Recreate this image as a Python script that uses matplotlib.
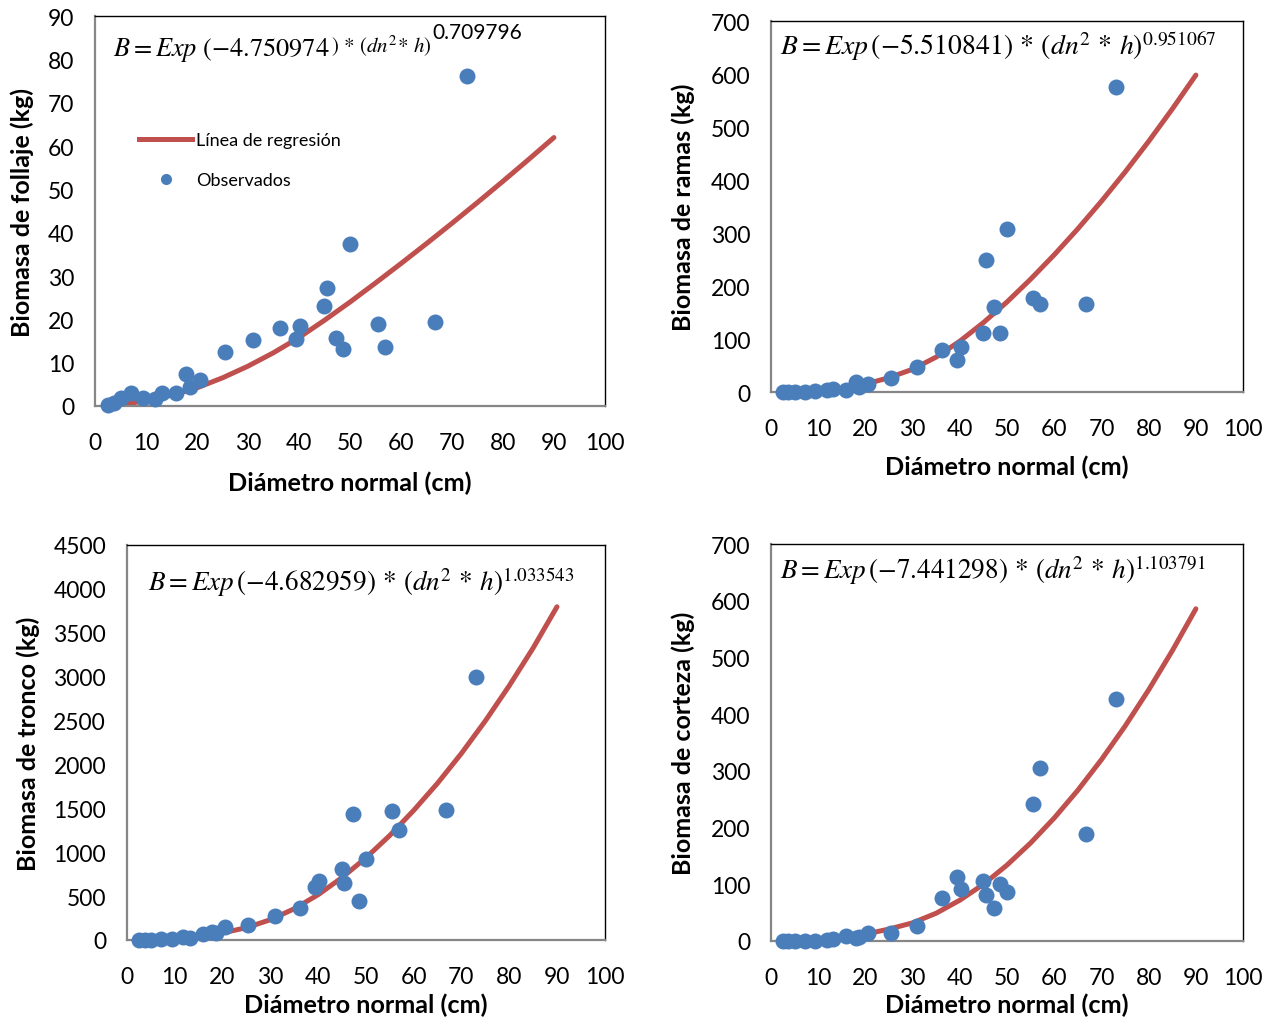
import matplotlib
matplotlib.use('Agg')
import matplotlib.pyplot as plt
from matplotlib.lines import Line2D

plt.rcParams['font.family'] = ['Lato', 'DejaVu Sans']
plt.rcParams['mathtext.fontset'] = 'stix'

BLUE = '#4A7EBB'
RED = '#C0504D'

# diametro normal (cm) de los arboles observados
dn = [2.5, 3.7, 5.0, 7.1, 9.4, 11.8, 13.2, 15.9, 17.9, 18.6, 20.6, 25.4, 31.0,
      36.2, 39.4, 40.2, 45.0, 45.5, 47.3, 48.6, 50.0, 55.4, 56.9, 66.7, 73.0]

# biomasa observada (kg)
follaje = [0.3, 0.8, 1.9, 2.9, 1.9, 1.5, 3.1, 2.9, 7.4, 4.4, 5.9, 12.5, 15.2,
           18.1, 15.4, 18.5, 23.0, 27.3, 15.8, 13.1, 37.4, 18.9, 13.7, 19.3, 76.2]
ramas = [0.5, 0.5, 0.5, 0.5, 1, 3, 6, 3, 18, 9, 15, 26, 47,
         79, 60, 85, 111, 250, 160, 111, 308, 178, 167, 167, 575]
tronco = [5, 5, 5, 8, 8, 38, 23, 68, 95, 80, 152, 175, 277,
          368, 600, 676, 809, 649, 1435, 448, 923, 1466, 1256, 1484, 2990]
corteza = [0.3, 0.3, 0.3, 0.5, 0.5, 2.4, 3, 9.5, 4.7, 6.5, 14.8, 13.5, 26.4,
           75, 112, 91, 105, 81, 59, 100, 87, 242, 306, 188, 427]

# linea de regresion
curve_dn = [2.5, 5, 10, 15, 20, 25, 30, 35, 40, 45, 50, 55, 60, 65, 70, 75, 80, 85, 90]
follaje_fit = [0.1, 0.3, 1.2, 2.5, 4.2, 6.5, 9.2, 12.3, 15.8, 19.8, 24.0, 28.4,
               32.9, 37.5, 42.2, 47.0, 51.9, 56.9, 62.0]
ramas_fit = [0.1, 0.5, 2.5, 7, 15, 27, 43, 66, 96, 131, 170, 213, 259, 308,
             360, 415, 473, 534, 598]
tronco_fit = [1, 4, 15, 40, 80, 140, 230, 355, 515, 710, 935, 1190, 1475, 1785,
              2125, 2495, 2895, 3325, 3795]
corteza_fit = [0.1, 0.5, 2, 6, 12, 21, 32, 49, 72, 100, 134, 173, 217, 266,
               320, 379, 443, 512, 586]

eq2 = r'$B = Exp\,(-5.510841)\,*\,(dn^2\,*\,h)^{0.951067}$'
eq3 = r'$B = Exp\,(-4.682959)\,*\,(dn^2\,*\,h)^{1.033543}$'
eq4 = r'$B = Exp\,(-7.441298)\,*\,(dn^2\,*\,h)^{1.103791}$'

fig = plt.figure(figsize=(12.81, 10.2), dpi=100)


def draw(rect, obs, fit, ymax, ystep, ylabel, ylab_x, xlab_y):
    ax = fig.add_axes(rect)
    ax.plot(curve_dn, fit, color=RED, lw=3.6, solid_capstyle='round',
            solid_joinstyle='round', zorder=2)
    ax.plot(dn, obs, 'o', color=BLUE, ms=11.5, mec='none', zorder=3, clip_on=False)
    ax.set_xlim(0, 100)
    ax.set_ylim(0, ymax)
    ax.set_xticks(range(0, 101, 10))
    ax.set_yticks(range(0, ymax + 1, ystep))
    ax.tick_params(length=0, labelsize=16.5, colors='black')
    ax.tick_params(axis='x', pad=19)
    ax.tick_params(axis='y', pad=15)
    for s in ('left', 'bottom'):
        ax.spines[s].set_color('#868686')
        ax.spines[s].set_linewidth(1.6)
    for s in ('top', 'right'):
        ax.spines[s].set_color('black')
        ax.spines[s].set_linewidth(1.0)
    ax.set_xlabel('Diámetro normal (cm)', fontsize=18.2, fontweight='bold')
    ax.set_ylabel(ylabel, fontsize=18, fontweight='bold')
    ax.xaxis.set_label_coords(0.5, xlab_y)
    ax.xaxis.label.set_va('center')
    ax.yaxis.set_label_coords(ylab_x, 0.5)
    ax.yaxis.label.set_va('center')
    return ax


ax1 = draw([0.0742, 0.601, 0.398, 0.382], follaje, follaje_fit, 90, 10,
           'Biomasa de follaje (kg)', -0.143, -0.195)
ax2 = draw([0.6019, 0.6147, 0.3685, 0.3637], ramas, ramas_fit, 700, 100,
           'Biomasa de ramas (kg)', -0.186, -0.20)
ax3 = draw([0.0991, 0.0775, 0.373, 0.3873], tronco, tronco_fit, 4500, 500,
           'Biomasa de tronco (kg)', -0.207, -0.162)
ax4 = draw([0.6019, 0.0765, 0.3685, 0.389], corteza, corteza_fit, 700, 100,
           'Biomasa de corteza (kg)', -0.186, -0.159)

# ecuacion del panel de follaje (tamanos mixtos como en el original)
t1 = ax1.text(0.035, 0.9, r'$B = Exp\ (-4.750974\ $', transform=ax1.transAxes,
              fontsize=19, va='baseline', ha='left')
t2 = ax1.annotate(r'$)\,*\,(dn^2\!*\,h)$', xy=(1, 0), xycoords=t1,
                  xytext=(1, 4), textcoords='offset points',
                  fontsize=15, va='bottom', ha='left')
ax1.annotate('0.709796', xy=(1, 1), xycoords=t2, xytext=(1, -7),
             textcoords='offset points', fontsize=15, va='bottom', ha='left')

ax2.text(0.019, 0.935, eq2, transform=ax2.transAxes, fontsize=20, va='center')
ax3.text(0.044, 0.908, eq3, transform=ax3.transAxes, fontsize=19.5, va='center')
ax4.text(0.019, 0.937, eq4, transform=ax4.transAxes, fontsize=19.5, va='center')

ax1.legend(handles=[Line2D([], [], color=RED, lw=3.6),
                    Line2D([], [], ls='none', marker='o', color=BLUE, ms=8, mec='none')],
           labels=['Línea de regresión', 'Observados'],
           loc='upper left', bbox_to_anchor=(0.055, 0.745), frameon=False,
           fontsize=13, handlelength=2.9, handletextpad=0.25, labelspacing=1.35)

fig.savefig('out.png', dpi=100)
